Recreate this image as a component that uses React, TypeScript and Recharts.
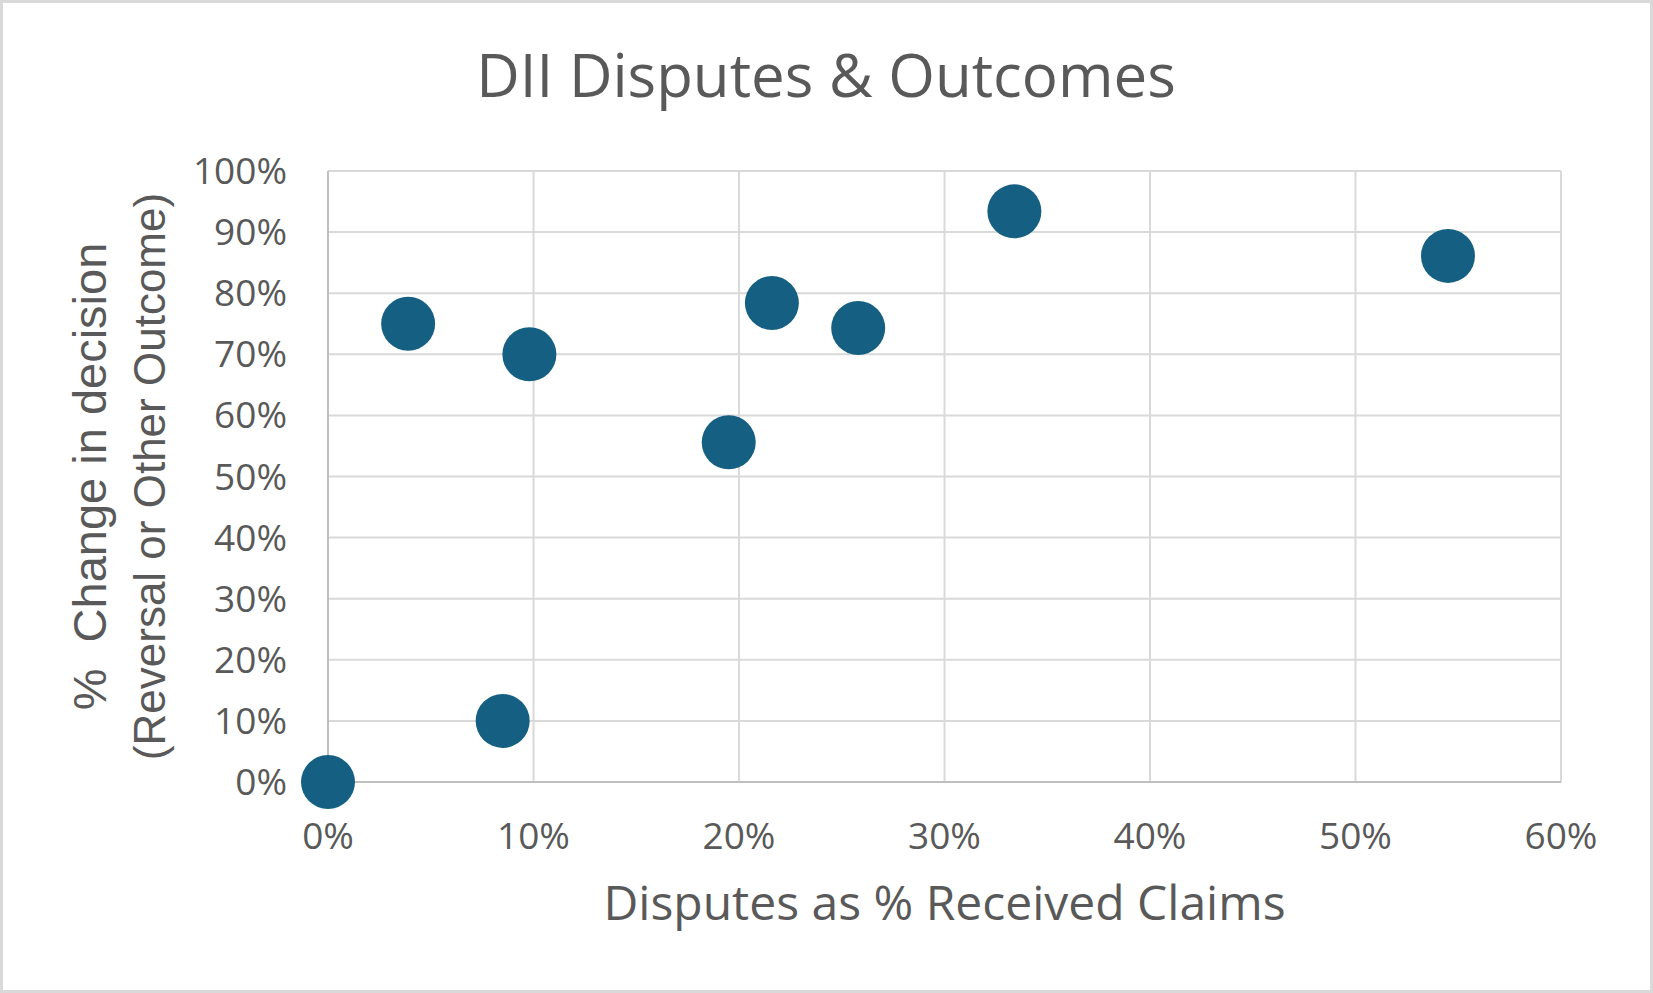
import React from 'react';
import { ScatterChart, Scatter, XAxis, YAxis, CartesianGrid } from 'recharts';

const disputeShare = [0, 0.039, 0.085, 0.098, 0.195, 0.216, 0.258, 0.334, 0.545];
const decisionChange = [0, 0.75, 0.1, 0.7, 0.556, 0.784, 0.743, 0.934, 0.861];
const xTicks = [0, 0.1, 0.2, 0.3, 0.4, 0.5, 0.6];
const yTicks = [0, 0.1, 0.2, 0.3, 0.4, 0.5, 0.6, 0.7, 0.8, 0.9, 1];

const chartTitle = 'DII Disputes & Outcomes';
const xTitle = 'Disputes as % Received Claims';
const yTitleLine1 = '%  Change in decision';
const yTitleLine2 = '(Reversal or Other Outcome)';

const data = disputeShare.map((x, i) => ({ x, y: decisionChange[i] }));

const TEXT = '#595959';
const MAIN_FONT = '"Open Sans", sans-serif';
const YT_FONT = '"Liberation Sans", Arial, sans-serif';

const pct = (v: number) => `${Math.round(v * 100)}%`;

const XTick = (props: any) => {
  const { x, y, payload } = props;
  return (
    <text x={x} y={y + 67} textAnchor="middle" fill={TEXT} fontSize={37} fontFamily={MAIN_FONT}>
      {pct(payload.value)}
    </text>
  );
};

const YTick = (props: any) => {
  const { x, y, payload } = props;
  return (
    <text x={x - 41} y={y + 13} textAnchor="end" fill={TEXT} fontSize={37} fontFamily={MAIN_FONT}>
      {pct(payload.value)}
    </text>
  );
};

const XTitle = (props: any) => {
  const vb = props.viewBox || { x: 328, y: 782, width: 1233, height: 100 };
  return (
    <text x={vb.x + vb.width / 2} y={vb.y + 138} textAnchor="middle" fill={TEXT} fontSize={48} fontFamily={MAIN_FONT}>
      {xTitle}
    </text>
  );
};

const YTitle = (props: any) => {
  const vb = props.viewBox || { x: 228, y: 171, width: 100, height: 611 };
  const cy = vb.y + vb.height / 2;
  const x1 = vb.x + vb.width - 222;
  const x2 = vb.x + vb.width - 163;
  return (
    <g>
      <text
        x={x1}
        y={cy}
        transform={`rotate(-90, ${x1}, ${cy})`}
        textAnchor="middle"
        fill={TEXT}
        fontSize={47}
        fontFamily={YT_FONT}
        style={{ whiteSpace: 'pre' }}
      >
        {yTitleLine1}
      </text>
      <text x={x2} y={cy} transform={`rotate(-90, ${x2}, ${cy})`} textAnchor="middle" fill={TEXT} fontSize={44} fontFamily={YT_FONT}>
        {yTitleLine2}
      </text>
    </g>
  );
};

const Dot = (props: any) => {
  const { cx, cy } = props;
  return <circle cx={cx} cy={cy} r={27} fill="#156082" />;
};

export default function App() {
  return (
    <div
      style={{
        position: 'absolute',
        left: 0,
        top: 0,
        width: 1653,
        height: 993,
        background: '#fff',
        boxSizing: 'border-box',
        border: '3px solid #d9d9d9',
      }}
    >
      <div style={{ position: 'absolute', left: -3, top: -3 }}>
        <ScatterChart width={1653} height={993} margin={{ top: 171, right: 92, left: 228, bottom: 111 }}>
          <CartesianGrid stroke="#d9d9d9" strokeWidth={2} />
          <XAxis
            type="number"
            dataKey="x"
            domain={[0, 0.6]}
            ticks={xTicks}
            height={100}
            tickLine={false}
            tickSize={0}
            tickMargin={0}
            axisLine={{ stroke: '#bfbfbf', strokeWidth: 2 }}
            tick={<XTick />}
            label={<XTitle />}
          />
          <YAxis
            type="number"
            dataKey="y"
            domain={[0, 1]}
            ticks={yTicks}
            width={100}
            tickLine={false}
            tickSize={0}
            tickMargin={0}
            axisLine={{ stroke: '#bfbfbf', strokeWidth: 2 }}
            tick={<YTick />}
            label={<YTitle />}
          />
          <Scatter data={data} fill="#156082" shape={<Dot />} isAnimationActive={false} />
        </ScatterChart>
        <svg width={1653} height={140} style={{ position: 'absolute', left: 0, top: 0, pointerEvents: 'none' }}>
          <text x={826} y={97} textAnchor="middle" fill={TEXT} fontSize={60} fontFamily={MAIN_FONT}>
            {chartTitle}
          </text>
        </svg>
      </div>
    </div>
  );
}
